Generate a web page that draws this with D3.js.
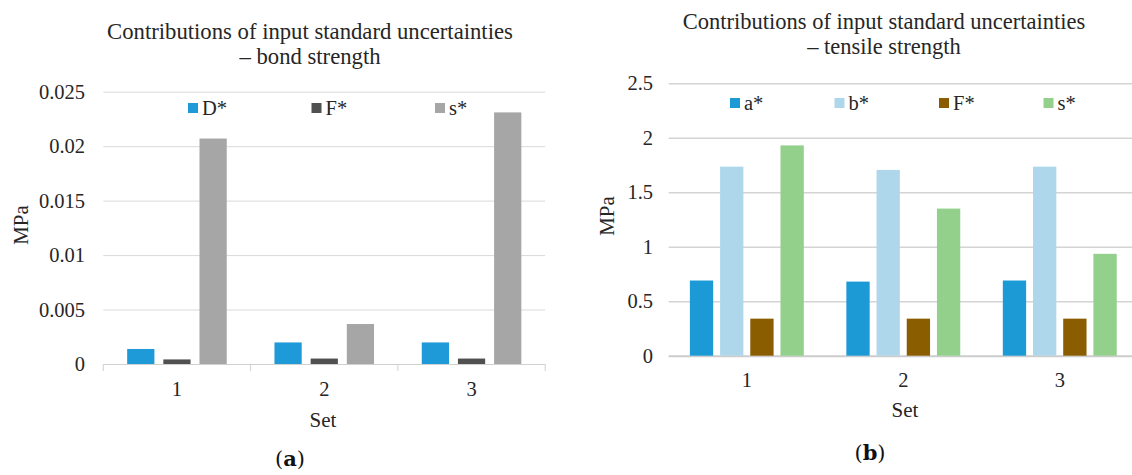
<!DOCTYPE html>
<html>
<head>
<meta charset="utf-8">
<script src="https://cdn.jsdelivr.net/npm/d3@7"></script>
<style>
  body { margin: 0; background: #fff; }
  .domain { display: none; }
</style>
</head>
<body>
<svg id="chart" width="1132" height="475"></svg>
<script>
// categories on the x axis (both panels)
const sets = ["1", "2", "3"];

// panel (a) - bond strength
const bondSeries = ["D*", "F*", "s*"];
const bondD = [0.00138, 0.00198, 0.00198];
const bondF = [0.00042, 0.0005, 0.0005];
const bondS = [0.0207, 0.00367, 0.0231];
const bondTicks = [0, 0.005, 0.01, 0.015, 0.02, 0.025];
const bondTickLabels = ["0", "0.005", "0.01", "0.015", "0.02", "0.025"];

// panel (b) - tensile strength
const tensileSeries = ["a*", "b*", "F*", "s*"];
const tensileA = [0.69, 0.68, 0.69];
const tensileB = [1.735, 1.705, 1.735];
const tensileF = [0.34, 0.34, 0.34];
const tensileS = [1.93, 1.35, 0.935];
const tensileTicks = [0, 0.5, 1, 1.5, 2, 2.5];
const tensileTickLabels = ["0", "0.5", "1", "1.5", "2", "2.5"];

const FONT = "'Liberation Serif', monospace";
const INK = "#262626";
const svg = d3.select("#chart");

function drawChart(c) {
  const g = svg.append("g");
  const rows = sets.map((s, i) => {
    const r = { set: s };
    c.series.forEach((k, j) => r[k] = c.values[j][i]);
    return r;
  });

  const x0 = d3.scaleBand().domain(sets).range([c.left, c.right])
    .paddingInner(c.pad).paddingOuter(c.pad / 2);
  const x1 = d3.scaleBand().domain(c.series).range([0, x0.bandwidth()])
    .paddingInner(c.innerPad);
  const y = d3.scaleLinear().domain([0, c.max]).range([c.bottom, c.top]);
  const color = d3.scaleOrdinal().domain(c.series).range(c.colors);

  // gridlines + y labels
  const yAxis = g.append("g")
    .attr("transform", `translate(${c.left},0)`)
    .call(d3.axisLeft(y).tickValues(c.ticks)
      .tickFormat((d, i) => c.tickLabels[i])
      .tickSize(-(Math.min(c.right, 1132) - c.left)).tickPadding(c.left - c.labelEnd))
    .attr("font-family", null).attr("font-size", null);
  yAxis.selectAll(".tick line").attr("stroke", c.grid).attr("stroke-width", c.gridW);
  yAxis.selectAll(".tick text")
    .style("font-family", FONT).style("font-size", "20.5px").attr("fill", INK);
  yAxis.select(".tick line").attr("stroke", c.axis).attr("stroke-width", c.axisW);

  // category boundary ticks
  if (c.boundaryTicks) {
    const edges = sets.map(s => x0(s) - x0.step() * c.pad / 2).concat([c.right]);
    g.selectAll(".edge").data(edges).enter().append("line")
      .attr("x1", d => d).attr("x2", d => d)
      .attr("y1", c.bottom).attr("y2", c.bottom + 7)
      .attr("stroke", c.axis);
  }

  // bars
  g.append("g").selectAll("g").data(rows).enter().append("g")
      .attr("transform", d => `translate(${x0(d.set)},0)`)
    .selectAll("rect")
    .data(d => c.series.map(k => ({ key: k, value: d[k] })))
    .enter().append("rect")
      .attr("x", d => x1(d.key))
      .attr("width", x1.bandwidth())
      .attr("y", d => y(d.value))
      .attr("height", d => c.bottom - y(d.value))
      .attr("fill", d => color(d.key));

  // x labels
  const xAxis = g.append("g")
    .attr("transform", `translate(0,${c.bottom})`)
    .call(d3.axisBottom(x0).tickSize(0).tickPadding(c.xLabelPad))
    .attr("font-family", null).attr("font-size", null);
  xAxis.selectAll("text")
    .style("font-family", FONT).style("font-size", "20.5px").attr("fill", INK);

  g.append("text")
    .attr("x", c.setX).attr("y", c.setY)
    .attr("text-anchor", "middle")
    .style("font-family", FONT).style("font-size", "21px").attr("fill", INK)
    .text("Set");

  g.append("text")
    .attr("transform", `translate(${c.mpaX},${c.mpaY}) rotate(-90)`)
    .attr("text-anchor", "middle")
    .style("font-family", FONT).style("font-size", "21px").attr("fill", INK)
    .text("MPa");

  // title
  g.selectAll(".title").data(c.title).enter().append("text")
    .attr("x", c.titleX)
    .attr("y", (d, i) => c.titleY + i * c.titleStep)
    .attr("text-anchor", "middle")
    .style("font-family", FONT).style("font-size", c.titleSize + "px").attr("fill", INK)
    .text(d => d);

  // legend
  const leg = g.selectAll(".leg").data(c.series).enter().append("g")
    .attr("transform", (d, i) => `translate(${c.legX + i * c.legStep},${c.legY})`);
  leg.append("rect").attr("x", 0).attr("y", -5).attr("width", 10).attr("height", 10)
    .attr("fill", d => color(d));
  leg.append("text").attr("x", 14).attr("y", 7)
    .style("font-family", FONT).style("font-size", "20.5px").attr("fill", INK)
    .text(d => d);

  // panel tag
  g.append("text")
    .attr("x", c.tagX).attr("y", c.tagY)
    .attr("text-anchor", "middle")
    .style("font-family", "'DejaVu Serif', serif").style("font-size", "21px").attr("fill", "#111")
    .html(`(<tspan font-weight="bold">${c.tag}</tspan>)`);
}

drawChart({
  series: bondSeries, values: [bondD, bondF, bondS],
  colors: ["#1f9ad8", "#505050", "#a6a6a6"],
  ticks: bondTicks, tickLabels: bondTickLabels, max: 0.025,
  left: 103.3, right: 545.2, top: 91.7, bottom: 364,
  pad: 0.324, innerPad: 0.247, labelEnd: 85,
  grid: "#d9d9d9", gridW: 1, axis: "#d0d0d0", axisW: 1, boundaryTicks: true,
  xLabelPad: 17, setX: 323, setY: 427, mpaX: 28, mpaY: 225,
  title: ["Contributions of input standard uncertainties", "\u2013 bond strength"],
  titleX: 310, titleY: 39, titleStep: 24.5, titleSize: 22.7,
  legX: 188, legY: 108, legStep: 123.5,
  tag: "a", tagX: 290, tagY: 466
});

drawChart({
  series: tensileSeries, values: [tensileA, tensileB, tensileF, tensileS],
  colors: ["#1b9ad6", "#afd7ec", "#8a5d00", "#93d08b"],
  ticks: tensileTicks, tickLabels: tensileTickLabels, max: 2.5,
  left: 668.6, right: 1138, top: 83.3, bottom: 355.7,
  pad: 0.272, innerPad: 0.228, labelEnd: 653,
  grid: "#d4d4d4", gridW: 1.5, axis: "#cccccc", axisW: 2, boundaryTicks: false,
  xLabelPad: 17, setX: 905, setY: 417, mpaX: 614, mpaY: 216,
  title: ["Contributions of input standard uncertainties", "\u2013 tensile strength"],
  titleX: 884, titleY: 29, titleStep: 24.5, titleSize: 22.5,
  legX: 730, legY: 103, legStep: 104.5,
  tag: "b", tagX: 870, tagY: 460
});
</script>
</body>
</html>
